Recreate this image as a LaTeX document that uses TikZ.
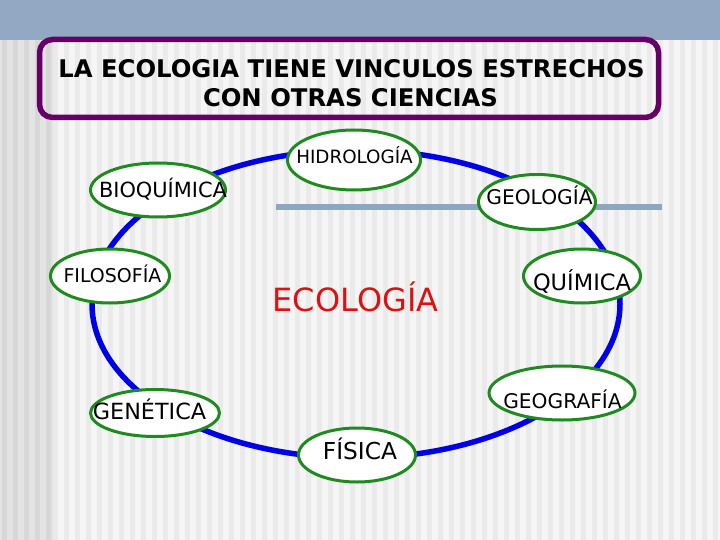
\documentclass[tikz,border=0pt]{standalone}
\usepackage{fontspec}
\setmainfont{DejaVu Sans}
\usetikzlibrary{shapes.geometric}
\definecolor{bandblue}{HTML}{93A9C3}
\definecolor{bgA}{HTML}{F5F5F5}
\definecolor{bgB}{HTML}{EAEAEA}
\definecolor{bgC}{HTML}{E3E3E3}
\definecolor{bgD}{HTML}{D7D7D7}
\definecolor{titlepurple}{HTML}{660066}
\definecolor{ringblue}{HTML}{0000E6}
\definecolor{bubblegreen}{HTML}{1F8A1F}
\definecolor{linegray}{HTML}{8EA6C0}
\definecolor{ecored}{HTML}{DD1111}
\tikzset{
  bubble/.style={ellipse, draw=bubblegreen, line width=3pt, fill=white, inner sep=0pt},
  lbl/.style={anchor=base, inner sep=0pt, text=black}
}
\begin{document}
\begin{tikzpicture}[x=1pt, y=-1pt]
\useasboundingbox (0,0) rectangle (720,540);
% background
\fill[bgA] (0,0) rectangle (720,540);
\foreach \x in {53,64,...,715} {\fill[bgB] (\x,40) rectangle ++(5,500);}
\fill[bgC] (0,40) rectangle (53,540);
\foreach \x in {2,13,...,46} {\fill[bgD] (\x,40) rectangle ++(5,500);}
\fill[bandblue] (0,0) rectangle (720,40);
% title box
\node[draw=titlepurple, line width=5.5pt, rounded corners=13pt, minimum width=619pt,
      minimum height=78pt, inner sep=0pt] (titlebox) at (349,78.5) {};
\node[lbl, font=\bfseries\fontsize{24.3}{24.3}\selectfont] (title1) at (351.5,78) {LA ECOLOGIA TIENE VINCULOS ESTRECHOS};
\node[lbl, font=\bfseries\fontsize{24.3}{24.3}\selectfont] (title2) at (350.5,107) {CON OTRAS CIENCIAS};
% ring
\draw[ringblue, line width=5.5pt] (356,304) ellipse [x radius=264, y radius=154];
\draw[linegray, line width=6pt] (276,207) -- (662,207);
% bubbles
\node[bubble, minimum width=133pt, minimum height=60pt] (hyd) at (354,160) {};
\node[bubble, minimum width=135pt, minimum height=54pt] (bio) at (158,190) {};
\node[bubble, minimum width=119pt, minimum height=54pt] (fil) at (110,276) {};
\node[bubble, minimum width=117pt, minimum height=55pt] (geo) at (537,202) {};
\node[bubble, minimum width=117pt, minimum height=54pt] (qui) at (582,276) {};
\node[bubble, minimum width=146pt, minimum height=54pt] (geog) at (562,393) {};
\node[bubble, minimum width=129pt, minimum height=47pt] (gen) at (155,413) {};
\node[bubble, minimum width=117pt, minimum height=54pt] (fis) at (357,455) {};
% labels
\node[lbl, font=\fontsize{18.3}{18.3}\selectfont] (hydt) at (354.5,164) {HIDROLOGÍA};
\node[lbl, font=\fontsize{20.9}{20.9}\selectfont] (biot) at (163,198) {BIOQUÍMICA};
\node[lbl, font=\fontsize{19}{19}\selectfont] (filt) at (112.5,282) {FILOSOFÍA};
\node[lbl, font=\fontsize{20.2}{20.2}\selectfont] (geot) at (539.5,205) {GEOLOGÍA};
\node[lbl, font=\fontsize{22.5}{22.5}\selectfont] (quit) at (582,290) {QUÍMICA};
\node[lbl, font=\fontsize{20.2}{20.2}\selectfont] (geogt) at (562.5,408) {GEOGRAFÍA};
\node[lbl, font=\fontsize{22.3}{22.3}\selectfont] (gent) at (149.5,419) {GENÉTICA};
\node[lbl, font=\fontsize{23.3}{23.3}\selectfont] (fist) at (360,459) {FÍSICA};
\node[lbl, text=ecored, font=\fontsize{32}{32}\selectfont] (eco) at (355.5,311) {ECOLOGÍA};
\end{tikzpicture}
\end{document}
